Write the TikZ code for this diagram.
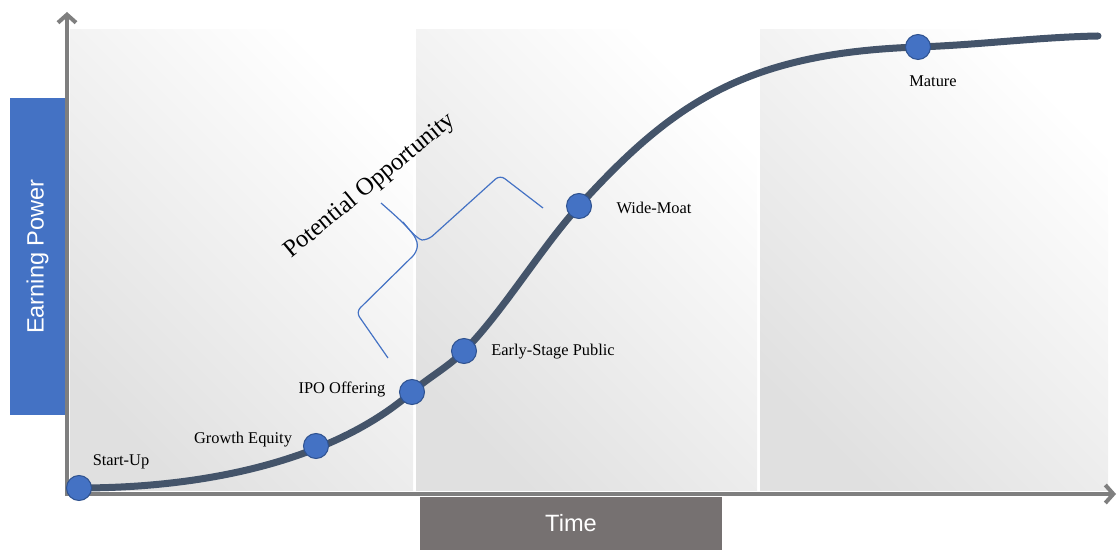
\documentclass[tikz,border=0pt]{standalone}
\usepackage{fontspec}
\setmainfont{Liberation Serif}
\newfontfamily\arialfont{Liberation Sans}
\usepackage{tikz}
\usetikzlibrary{positioning}
\usetikzlibrary{arrows.meta}

\definecolor{stageblue}{HTML}{4472C4}
\definecolor{stageborder}{HTML}{2F528F}
\definecolor{curveslate}{HTML}{44546A}
\definecolor{axisgray}{HTML}{7F7F7F}
\definecolor{timegray}{HTML}{767171}

\begin{document}
\begin{tikzpicture}[x=0.5pt, y=-0.5pt,
		panel/.style={top color=white, bottom color=black!12, shading angle=-45},
		axis/.style={line width=2pt, draw=axisgray, -{Straight Barb[length=4pt,width=9pt]}},
		stage/.style={circle, fill=stageblue, draw=stageborder, line width=0.5pt, minimum size=12.5pt, inner sep=0pt},
		stagelabel/.style={font=\fontsize{8.2}{10}\selectfont, inner sep=0pt},
		brace/.style={draw=stageblue, line width=0.6pt, rounded corners=3pt}]
		\useasboundingbox (0,0) rectangle (1118,550);

		% Background panels
		\shade[panel] (70,30) rectangle (413,490);
		\shade[panel] (416,30) rectangle (757,490);
		\shade[panel] (760,30) rectangle (1108,490);

		% Axes
		\coordinate (origin) at (67,494);
		\coordinate (ytip) at (67,12);
		\coordinate (xtip) at (1116,494);
		\draw [axis] (67,496) -- (ytip);
		\draw [axis] (65,494) -- (xtip);

		% Axis titles
		\node [rotate=90, fill=stageblue, text=white, font=\arialfont\fontsize{11.8}{14}\selectfont,
			minimum width=158.5pt, minimum height=27.5pt, inner sep=0pt] (ylabel) at (37.5,256.5) {Earning Power};
		\node [fill=timegray, text=white, font=\arialfont\fontsize{11.8}{14}\selectfont,
			minimum width=151pt, minimum height=26.5pt, inner sep=0pt] (xlabel) at (571,523.5) {Time};

		% Stages on the curve
		\coordinate (su) at (79,488);
		\coordinate (ge) at (316,446);
		\coordinate (ipo) at (412,392);
		\coordinate (esp) at (464,351);
		\coordinate (wm) at (579,206);
		\coordinate (mat) at (918,47);
		\coordinate (tail) at (1098,36);

		% Earning power curve
		\draw [line width=3.5pt, curveslate, line cap=round]
			(su) .. controls (220,488) and (340,455) .. (ipo)
			.. controls (429,377) and (447,368) .. (esp)
			.. controls (502,313) and (541,248) .. (wm)
			.. controls (674,101) and (748,53) .. (mat)
			.. controls (978,45) and (1040,37) .. (tail);

		\node [stage] (sudot) at (su) {};
		\node [stage] (gedot) at (ge) {};
		\node [stage] (ipodot) at (ipo) {};
		\node [stage] (espdot) at (esp) {};
		\node [stage] (wmdot) at (wm) {};
		\node [stage] (matdot) at (mat) {};

		% Stage labels
		\node [stagelabel] (sulbl) at (121,462) {Start-Up};
		\node [stagelabel] (gelbl) at (243,440) {Growth Equity};
		\node [stagelabel] (ipolbl) at (342,389) {IPO Offering};
		\node [stagelabel] (esplbl) at (553,352) {Early-Stage Public};
		\node [stagelabel] (wmlbl) at (654,208) {Wide-Moat};
		\node [stagelabel] (matlbl) at (933,81) {Mature};

		% Potential opportunity braces
		\draw [brace] (381,203) .. controls (405,224) and (418,236) .. (417,252) -- (356,312) -- (388,358);
		\draw [brace] (403,222) .. controls (412,234) and (420,240) .. (428,240) -- (500,175) -- (543,208);
		\node [rotate=39.5, font=\fontsize{12.3}{14}\selectfont, inner sep=0pt] (opp) at (370,186) {Potential Opportunity};
	\end{tikzpicture}
\end{document}
